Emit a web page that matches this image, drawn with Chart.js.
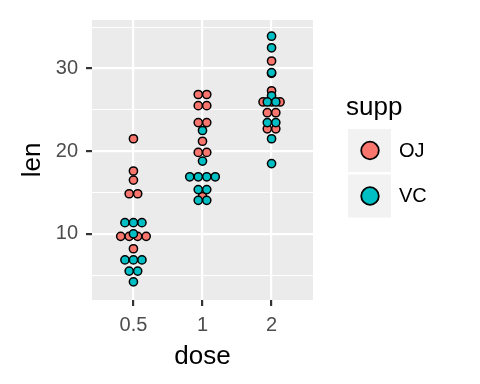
<!DOCTYPE html>
<html>
<head>
<meta charset="utf-8">
<script src="https://cdn.jsdelivr.net/npm/chart.js@4/dist/chart.umd.min.js"></script>
<style>
  body { margin: 0; background: #fff; }
  #wrap { width: 480px; height: 384px; }
</style>
</head>
<body>
<div id="wrap"><canvas id="myChart" width="480" height="384"></canvas></div>
<script>
// categories and groups
const doses = ['0.5', '1', '2'];
const supp = ['OJ', 'VC'];
const suppColors = ['#F8766D', '#00BFC4'];

// len values as the binned dots sit in the picture (one entry per dot)
const ojHalf = [21.5, 17.6, 16.5, 14.85, 14.85, 9.7, 9.7, 9.7, 9.7, 8.2];
const ojOne = [26.85, 26.85, 25.5, 25.5, 23.45, 23.45, 21.2, 19.85, 19.85, 14.5];
const ojTwo = [30.9, 29.4, 27.3, 25.95, 25.95, 25.95, 24.65, 24.65, 22.7, 22.7];
const vcHalf = [11.35, 11.35, 11.35, 10, 6.85, 6.85, 6.85, 5.5, 5.5, 4.2];
const vcOne = [22.5, 18.8, 16.9, 16.9, 16.9, 16.9, 15.35, 15.35, 14.05, 14.05];
const vcTwo = [33.9, 32.5, 29.5, 26.7, 25.95, 25.95, 23.45, 23.45, 21.5, 18.5];

// axis ticks
const yTicks = [5, 10, 15, 20, 25, 30, 35];
const yLabels = [10, 20, 30];

const stackStep = 0.123; // one dot width, in x units

// centre-stack dots that share the same bin
function stackDots(values, doseIndex) {
  let counts = {};
  values.forEach(v => { counts[v] = (counts[v] || 0) + 1; });
  let seen = {};
  let pts = [];
  values.forEach(v => {
    const n = counts[v];
    const i = seen[v] || 0;
    seen[v] = i + 1;
    pts.push({x: doseIndex + 1 + (i - (n - 1) / 2) * stackStep, y: v});
  });
  return pts;
}

const ojPoints = [].concat(stackDots(ojHalf, 0), stackDots(ojOne, 1), stackDots(ojTwo, 2));
const vcPoints = [].concat(stackDots(vcHalf, 0), stackDots(vcOne, 1), stackDots(vcTwo, 2));

const font = '"Liberation Sans", Arial, sans-serif';

const panelBg = {
  id: 'panelBg',
  beforeDraw(chart) {
    const {ctx, chartArea: a} = chart;
    ctx.save();
    ctx.fillStyle = '#EBEBEB';
    ctx.fillRect(a.left, a.top, a.right - a.left, a.bottom - a.top);
    ctx.restore();
  }
};

const suppLegend = {
  id: 'suppLegend',
  afterDraw(chart) {
    const ctx = chart.ctx;
    ctx.save();
    ctx.fillStyle = '#000';
    ctx.font = '26px ' + font;
    ctx.textAlign = 'left';
    ctx.textBaseline = 'alphabetic';
    ctx.fillText('supp', 346, 115);
    supp.forEach((name, i) => {
      const y0 = 129 + i * 45.5;
      ctx.fillStyle = '#F2F2F2';
      ctx.fillRect(348, y0, 43, 43);
      ctx.beginPath();
      ctx.arc(370, y0 + 21.5, 8.8, 0, Math.PI * 2);
      ctx.fillStyle = suppColors[i];
      ctx.fill();
      ctx.lineWidth = 1.8;
      ctx.strokeStyle = '#000';
      ctx.stroke();
      ctx.fillStyle = '#000';
      ctx.font = '20px ' + font;
      ctx.textBaseline = 'middle';
      ctx.fillText(name, 399, y0 + 22);
    });
    ctx.restore();
  }
};

new Chart(document.getElementById('myChart'), {
  type: 'scatter',
  data: {
    datasets: [
      {
        label: supp[0],
        data: ojPoints,
        backgroundColor: suppColors[0],
        borderColor: '#000',
        borderWidth: 1.5,
        pointRadius: 4.1,
        order: 1
      },
      {
        label: supp[1],
        data: vcPoints,
        backgroundColor: suppColors[1],
        borderColor: '#000',
        borderWidth: 1.5,
        pointRadius: 4.1,
        order: 0
      }
    ]
  },
  options: {
    responsive: false,
    animation: false,
    layout: { padding: { left: 0, top: 15, right: 167, bottom: 0 } },
    plugins: {
      legend: { display: false },
      tooltip: { enabled: false }
    },
    scales: {
      x: {
        type: 'linear',
        min: 0.4,
        max: 3.6,
        afterBuildTicks: scale => { scale.ticks = doses.map((d, i) => ({value: i + 1})); },
        afterFit: scale => { scale.height = 84; },
        border: { display: false },
        grid: {
          color: '#FFFFFF',
          lineWidth: 2.2,
          tickColor: '#333333',
          tickWidth: 2.2,
          tickLength: 6
        },
        ticks: {
          autoSkip: false,
          maxRotation: 0,
          padding: 7,
          color: '#4D4D4D',
          font: { family: font, size: 20 },
          callback: value => doses[value - 1]
        },
        title: {
          display: true,
          text: 'dose',
          color: '#000',
          font: { family: font, size: 26 },
          padding: { top: 0, bottom: 12 }
        }
      },
      y: {
        min: 2.0,
        max: 35.86,
        afterBuildTicks: scale => { scale.ticks = yTicks.map(v => ({value: v})); },
        afterFit: scale => { scale.width = 92; },
        border: { display: false },
        grid: {
          color: '#FFFFFF',
          lineWidth: ctx => yLabels.includes(ctx.tick.value) ? 2.2 : 1.1,
          tickColor: ctx => yLabels.includes(ctx.tick.value) ? '#333333' : 'rgba(0,0,0,0)',
          tickWidth: 2.2,
          tickLength: 6
        },
        ticks: {
          autoSkip: false,
          padding: 8,
          color: '#4D4D4D',
          font: { family: font, size: 20 },
          callback: value => yLabels.includes(value) ? String(value) : ''
        },
        title: {
          display: true,
          text: 'len',
          color: '#000',
          font: { family: font, size: 26 },
          padding: { top: 17, bottom: 0 }
        }
      }
    }
  },
  plugins: [panelBg, suppLegend]
});
</script>
</body>
</html>
